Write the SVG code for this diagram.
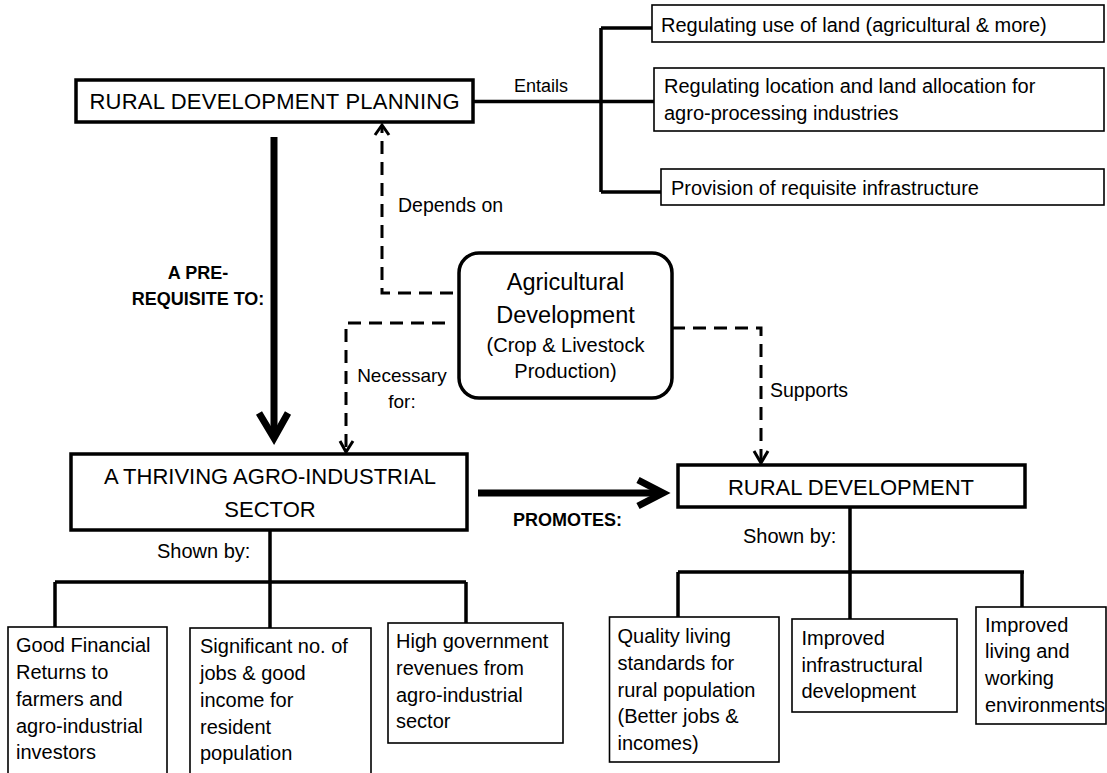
<svg xmlns="http://www.w3.org/2000/svg" width="1107" height="773" viewBox="0 0 1107 773">
<style>
text{font-family:"Liberation Sans",Arial,sans-serif;fill:#000}
.t{font-size:20px}
.h{font-size:22px}
.b{font-size:18px;font-weight:bold}
.thin{fill:#fff;stroke:#000;stroke-width:1.6}
.thick{fill:#fff;stroke:#000;stroke-width:3.5}
.ln{fill:none;stroke:#000;stroke-width:3.5}
.big{fill:none;stroke:#000;stroke-width:7}
.dash{fill:none;stroke:#000;stroke-width:3;stroke-dasharray:13 8}
.ah{fill:none;stroke:#000;stroke-width:3}
</style>
<rect width="1107" height="773" fill="#fff"/>
<g id="connectors">
  <path class="ln" d="M473 101.5H654M601 28V192M601 28H652M601 192H661"/>
  <text class="t" x="514" y="92" style="font-size:18px">Entails</text>
  <path class="big" d="M274 137V436"/>
  <path class="big" d="M259 413L274 438L288 413" stroke-linejoin="miter"/>
  <text class="b" x="198" y="279" text-anchor="middle">A PRE-</text>
  <text class="b" x="198" y="305" text-anchor="middle">REQUISITE TO:</text>
  <path class="dash" d="M453 293H382V127"/>
  <path class="ah" d="M375 135L382 125L389 135"/>
  <text class="t" x="398" y="212" style="font-size:19.5px">Depends on</text>
  <path class="dash" d="M445 323H346V450"/>
  <path class="ah" d="M340 441L346 452L353 441"/>
  <text class="t" x="402" y="382" text-anchor="middle" style="font-size:19px">Necessary</text>
  <text class="t" x="402" y="408" text-anchor="middle" style="font-size:19px">for:</text>
  <path class="dash" d="M672 328H761V461"/>
  <path class="ah" d="M754 451L761 463L768 451"/>
  <text class="t" x="770" y="397" style="font-size:19.5px">Supports</text>
  <path class="big" d="M478 493H660"/>
  <path class="big" d="M638 480L663 493L638 506"/>
  <text class="b" x="513" y="526">PROMOTES:</text>
  <path class="ln" d="M270 530V582M55 582H466M55 582V627M270 582V628M466 582V623"/>
  <text class="t" x="157" y="558">Shown by:</text>
  <path class="ln" d="M850 507V572M678 572H1024M678 572V617M850 572V619M1022 572V607"/>
  <text class="t" x="743" y="543">Shown by:</text>
</g>
<g id="rdp">
  <rect class="thick" x="76" y="80" width="397" height="42"/>
  <text class="h" x="274.5" y="109" text-anchor="middle" textLength="370">RURAL DEVELOPMENT  PLANNING</text>
</g>
<g id="reg-land">
  <rect class="thin" x="652" y="5" width="452" height="37"/>
  <text class="t" x="661" y="32">Regulating use of land (agricultural &amp; more)</text>
</g>
<g id="reg-location">
  <rect class="thin" x="654" y="68" width="450" height="63"/>
  <text class="t" x="664" y="93">Regulating location and land allocation for</text>
  <text class="t" x="664" y="120">agro-processing industries</text>
</g>
<g id="provision">
  <rect class="thin" x="661" y="169" width="443" height="36"/>
  <text class="t" x="671" y="195">Provision of requisite infrastructure</text>
</g>
<g id="agri">
  <rect class="thick" x="459" y="253" width="213" height="145" rx="20"/>
  <text class="t" x="565.5" y="290" text-anchor="middle" style="font-size:23.5px">Agricultural</text>
  <text class="t" x="565.5" y="323" text-anchor="middle" style="font-size:23.5px">Development</text>
  <text class="t" x="565.5" y="352" text-anchor="middle">(Crop &amp; Livestock</text>
  <text class="t" x="565.5" y="378" text-anchor="middle">Production)</text>
</g>
<g id="thriving">
  <rect class="thick" x="71" y="454" width="396" height="76"/>
  <text class="h" x="270" y="484" text-anchor="middle">A THRIVING AGRO-INDUSTRIAL</text>
  <text class="h" x="270" y="517" text-anchor="middle">SECTOR</text>
</g>
<g id="rural-dev">
  <rect class="thick" x="678" y="465" width="347" height="42"/>
  <text class="h" x="851" y="495" text-anchor="middle">RURAL DEVELOPMENT</text>
</g>
<g id="returns">
  <rect class="thin" x="8" y="627" width="159" height="160"/>
  <text class="t" x="16" y="652">Good Financial</text>
  <text class="t" x="16" y="679">Returns to</text>
  <text class="t" x="16" y="706">farmers and</text>
  <text class="t" x="16" y="733">agro-industrial</text>
  <text class="t" x="16" y="759">investors</text>
</g>
<g id="jobs">
  <rect class="thin" x="190" y="628" width="181" height="160"/>
  <text class="t" x="200" y="653">Significant no. of</text>
  <text class="t" x="200" y="680">jobs &amp; good</text>
  <text class="t" x="200" y="707">income for</text>
  <text class="t" x="200" y="734">resident</text>
  <text class="t" x="200" y="760">population</text>
</g>
<g id="revenues">
  <rect class="thin" x="388" y="623" width="175" height="120"/>
  <text class="t" x="396" y="648">High government</text>
  <text class="t" x="396" y="675">revenues from</text>
  <text class="t" x="396" y="702">agro-industrial</text>
  <text class="t" x="396" y="728">sector</text>
</g>
<g id="quality">
  <rect class="thin" x="609.5" y="617" width="169.5" height="145"/>
  <text class="t" x="617.5" y="643">Quality living</text>
  <text class="t" x="617.5" y="670">standards for</text>
  <text class="t" x="617.5" y="697">rural population</text>
  <text class="t" x="617.5" y="723">(Better jobs &amp;</text>
  <text class="t" x="617.5" y="750">incomes)</text>
</g>
<g id="infra">
  <rect class="thin" x="792" y="619" width="165" height="93"/>
  <text class="t" x="801.5" y="645">Improved</text>
  <text class="t" x="801.5" y="672">infrastructural</text>
  <text class="t" x="801.5" y="698">development</text>
</g>
<g id="environments">
  <rect class="thin" x="976" y="607" width="130" height="117"/>
  <text class="t" x="985" y="632">Improved</text>
  <text class="t" x="985" y="658">living and</text>
  <text class="t" x="985" y="685">working</text>
  <text class="t" x="985" y="712">environments</text>
</g>
</svg>
